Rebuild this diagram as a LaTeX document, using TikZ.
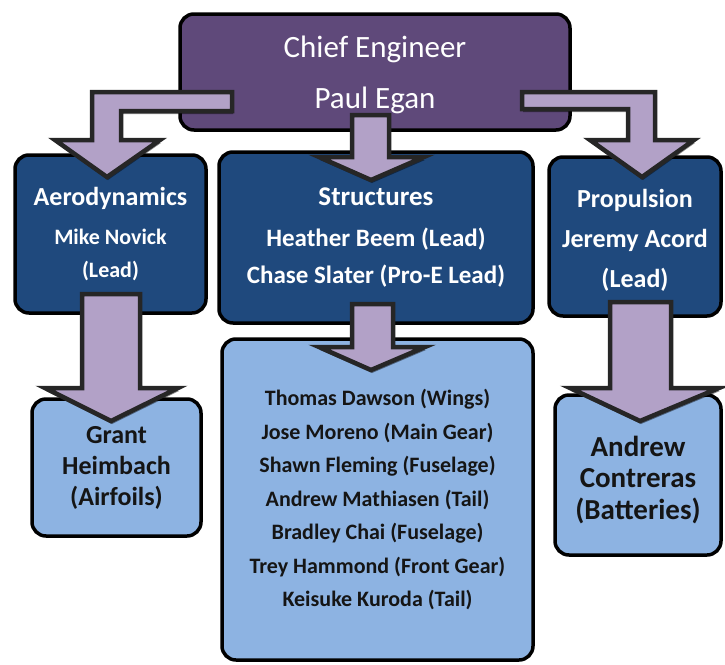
\documentclass[tikz,border=0pt]{standalone}
\usepackage{fontspec}
\setmainfont{Carlito}
\usetikzlibrary{shadows}
\definecolor{chiefpurple}{HTML}{5F497A}
\definecolor{leadblue}{HTML}{1F497D}
\definecolor{teamblue}{HTML}{8DB3E2}
\definecolor{arrowlilac}{HTML}{B2A1C7}
\definecolor{edgedark}{HTML}{262626}
\definecolor{teamtext}{HTML}{151515}

\tikzset{
  box/.style={draw=black, line width=3.5pt, rounded corners=14pt, inner sep=0pt, align=center},
  chiefbox/.style={box, fill=chiefpurple, text=white},
  leadbox/.style={box, fill=leadblue, text=white},
  teambox/.style={box, fill=teamblue, text=teamtext},
  blockarrow/.style={fill=arrowlilac, draw=edgedark, line width=4.5pt, line join=miter,
    drop shadow={shadow xshift=1pt, shadow yshift=-3pt, opacity=0.45, fill=black}},
}

\begin{document}
\begin{tikzpicture}[x=1pt, y=-1pt]
  \useasboundingbox (0,0) rectangle (725,664);
  \clip (0,0) rectangle (725,664);

  % chief engineer
  \node[chiefbox, minimum width=390, minimum height=116,
        font=\fontsize{31}{51}\selectfont] (chief) at (375,72)
    {\rule{0pt}{27pt}Chief Engineer\\Paul Egan};

  % group leads
  \node[leadbox, minimum width=191, minimum height=158,
        font=\bfseries\fontsize{22}{33}\selectfont] (aero) at (110.5,234)
    {{\fontsize{26}{33}\selectfont Aerodynamics}\\[6pt]Mike Novick\\(Lead)};
  \node[leadbox, minimum width=314, minimum height=171,
        font=\bfseries\fontsize{25}{37}\selectfont] (struct) at (376,237.5)
    {{\fontsize{27}{37}\selectfont Structures}\\[4pt]Heather Beem (Lead)\\Chase Slater (Pro-E Lead)};
  \node[leadbox, minimum width=172, minimum height=159,
        font=\bfseries\fontsize{26}{40}\selectfont] (prop) at (635,236.5)
    {\rule{0pt}{26pt}Propulsion\\Jeremy Acord\\(Lead)};

  % team members
  \node[teambox, minimum width=169, minimum height=137,
        font=\bfseries\fontsize{26}{31}\selectfont] (grant) at (116.5,467.5)
    {Grant\\Heimbach\\(Airfoils)};
  \node[teambox, minimum width=311, minimum height=321,
        font=\bfseries\fontsize{22}{33.5}\selectfont] (team) at (377.5,499.5)
    {Thomas Dawson (Wings)\\Jose Moreno (Main Gear)\\
     Shawn Fleming (Fuselage)\\Andrew Mathiasen (Tail)\\Bradley Chai (Fuselage)\\
     Trey Hammond (Front Gear)\\Keisuke Kuroda (Tail)};
  \node[teambox, minimum width=166, minimum height=160,
        font=\bfseries\fontsize{29}{31.5}\selectfont] (andrew) at (638,475)
    {\rule{0pt}{30pt}Andrew\\Contreras\\(Batteries)};

  % bent arrows from the chief box
  \draw[blockarrow] (232,92) -- (92,92) -- (92,140) -- (55,140) -- (107,177)
    -- (160,140) -- (121,140) -- (121,111) -- (232,111) -- cycle;
  \draw[blockarrow] (522,92) -- (655,92) -- (655,140) -- (694,140) -- (642,177)
    -- (590,140) -- (628,140) -- (628,109) -- (522,109) -- cycle;

  % straight down arrows
  \draw[blockarrow] (352,115) -- (389,115) -- (389,157) -- (424,157) -- (371,180)
    -- (319,157) -- (352,157) -- cycle;
  \draw[blockarrow] (82,294) -- (140,294) -- (140,388) -- (178,388) -- (111,421)
    -- (45,388) -- (82,388) -- cycle;
  \draw[blockarrow] (352,304) -- (393,304) -- (393,347) -- (425,347) -- (371,370)
    -- (319,347) -- (352,347) -- cycle;
  \draw[blockarrow] (610,302) -- (671,302) -- (671,388) -- (719,388) -- (640,421)
    -- (570,388) -- (610,388) -- cycle;
\end{tikzpicture}
\end{document}
